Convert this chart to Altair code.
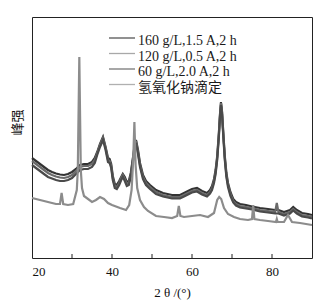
import altair as alt
import pandas as pd

# ---- data (intensity in arbitrary units) ----
two_theta_dark = [20, 21, 22, 23, 24, 25, 26, 27, 28, 29, 30, 31, 32, 33, 34, 35,
                  35.7, 36.3, 37, 37.75, 38.4, 39, 39.4, 39.8,
                  40.2, 40.7, 41.2, 41.8, 42.3, 42.7, 43.2, 43.7, 44.2, 44.7,
                  45.2, 45.6, 46, 46.5, 47, 47.75, 48.5, 49.5,
                  51, 52.75, 55, 57, 58, 59, 60, 61.25, 62.5, 63.75, 64.5,
                  65, 65.5, 65.9, 66.3, 66.7, 67, 67.25, 67.5, 67.8, 68.2, 68.6, 69, 69.6, 70.3,
                  71, 72, 73.5, 75, 77, 79, 80.8, 81.2, 81.6, 83, 84.5, 85.3, 86.2, 87.5, 89, 90]

i_160 = [100, 97, 94, 91, 88, 86, 84.5, 83.5, 83, 84, 86, 89, 93, 94, 94, 96,
         100, 106, 114, 121, 111, 100, 99, 94,
         82, 74, 73, 77, 81, 84, 81, 76, 77, 85,
         99, 111, 118, 108, 95, 83, 77, 73,
         68, 65, 63, 63, 65, 67, 69, 70, 67, 65, 68,
         72, 79, 88, 102, 124, 144, 156, 147, 127, 102, 85, 75, 66, 59,
         56, 54, 53, 51.5, 50, 49, 48, 48, 48, 46, 48, 51, 48, 45, 44, 43]

i_120 = [97, 94, 91, 88, 85, 83, 81.5, 80.5, 80, 81, 83, 87, 91, 92, 92, 94,
         98, 105, 113, 120, 110, 98, 97, 92,
         80, 72, 71, 75, 80, 83, 79, 74, 75, 83,
         98, 110, 117, 106, 93, 81, 75, 71,
         66, 63, 61, 61, 63, 65, 67, 68, 65, 63, 66,
         70, 77, 86, 100, 122, 143, 155, 146, 125, 100, 83, 73, 64, 57,
         54, 52, 51, 50, 48, 47, 46, 55, 46, 44, 46, 49, 46, 43, 42, 41]

i_60 = [93, 90, 87, 84, 81, 79.5, 78, 77, 77, 78, 80, 84, 88, 89, 89, 91,
        95, 103, 111, 118, 108, 96, 95, 90,
        78, 70, 69, 73, 78, 81, 77, 72, 73, 81,
        96, 108, 115, 104, 91, 79, 73, 69,
        64, 61.5, 59.5, 59.5, 61.5, 63.5, 65.5, 66.5, 63.5, 61.5, 64.5,
        68, 75, 84, 98, 120, 141, 153, 144, 123, 98, 81, 71, 62, 55.5,
        52.5, 50.5, 49.5, 48.5, 46.5, 45.5, 44.5, 44.5, 44.5, 42.5, 44.5, 47.5, 44.5, 41.5, 40.5, 39.5]

two_theta_naoh = [20, 22, 24, 26, 27, 27.4, 27.8, 29, 30.3,
                  31.2, 31.45, 31.65, 31.83, 32.0, 32.2, 32.5, 33,
                  35, 36, 37, 38, 39, 40, 42, 43.5,
                  44.3, 44.9, 45.3, 45.6, 45.9, 46.3, 47, 48, 49,
                  51, 53, 55, 56.3, 56.7, 57.1, 58, 60, 62, 64,
                  65.5, 66.3, 66.8, 67.3, 68, 69, 70.5, 72, 74,
                  75, 75.3, 75.6, 77, 79, 81, 81.2, 81.4, 83, 84, 85, 87, 90]

i_naoh = [60, 58, 56, 54, 54, 65, 54, 53, 54,
          68, 88, 148, 201, 148, 88, 70, 62,
          56, 58, 61, 59, 55, 53, 50, 48,
          53, 68, 98, 136, 93, 70, 58, 51, 47,
          42, 41, 40, 42, 52, 42, 41, 42, 43, 41,
          45, 58, 61, 59, 50, 44, 41, 39, 38,
          39, 53, 39, 38, 37, 36, 39, 36, 36, 43, 36, 35, 33]

series_names = ["160 g/L,1.5 A,2 h", "120 g/L,0.5 A,2 h", "60 g/L,2.0 A,2 h", "氢氧化钠滴定"]
series_colors = ["#333333", "#6a6a6a", "#4a4a4a", "#8c8c8c"]
legend_colors = ["#555555", "#a8a8a8", "#777777", "#b0b0b0"]
series_widths = [2.2, 2.2, 2.2, 1.0]
x_tick_values = [30, 40, 50, 60, 70, 80]
x_label_values = [20, 40, 60, 80]

# ---- build tables ----
rows = []
for name, vals in zip(series_names[:3], [i_160, i_120, i_60]):
    for t, v in zip(two_theta_dark, vals):
        rows.append({"two_theta": t, "intensity": v, "series": name})
for t, v in zip(two_theta_naoh, i_naoh):
    rows.append({"two_theta": t, "intensity": v, "series": series_names[3]})
df = pd.DataFrame(rows)
ticks_df = pd.DataFrame({"tick": x_tick_values})
legend_df = pd.DataFrame({"series": series_names})

serif = "Liberation Serif, Noto Sans CJK SC"
color_scale = alt.Scale(domain=series_names, range=series_colors)
y_scale = alt.Scale(domain=[0, 241], nice=False, zero=True)

curves = alt.Chart(df).mark_line(interpolate="linear").encode(
    x=alt.X("two_theta:Q", scale=alt.Scale(domain=[20, 90], nice=False, zero=False),
            axis=alt.Axis(values=x_label_values, title="2 θ /(°)", tickSize=0, domain=False,
                          grid=False, labelFont="Liberation Serif", labelFontSize=13,
                          labelColor="#111", labelPadding=7, labelFlush=True,
                          labelOverlap=False, titleFont=serif, titleFontSize=13,
                          titleFontWeight="normal", titleColor="#111", titlePadding=8)),
    y=alt.Y("intensity:Q", scale=y_scale,
            axis=alt.Axis(title="峰强", labels=False, ticks=False, domain=False, grid=False,
                          titleFont="Noto Sans CJK SC", titleFontSize=13, titleFontWeight="normal",
                          titleColor="#111", titleAngle=270, titleX=-15, titleY=105,
                          titleAlign="center", titleBaseline="middle")),
    color=alt.Color("series:N", scale=color_scale, legend=None),
    strokeWidth=alt.StrokeWidth("series:N", scale=alt.Scale(domain=series_names, range=series_widths),
                                legend=None),
)

tick_marks = alt.Chart(ticks_df).mark_rule(color="#222", strokeWidth=1).encode(
    x=alt.X("tick:Q", scale=alt.Scale(domain=[20, 90], nice=False, zero=False), axis=None),
    y=alt.value(241),
    y2=alt.value(237),
)

legend_y = alt.Y("series:N", sort=series_names,
                 scale=alt.Scale(type="point", range=[21, 67.5], padding=0), axis=None)

legend_lines = alt.Chart(legend_df).mark_rule(strokeWidth=1.3).encode(
    x=alt.value(77),
    x2=alt.value(103),
    y=legend_y,
    stroke=alt.Stroke("series:N", scale=alt.Scale(domain=series_names, range=legend_colors),
                      legend=None),
)

legend_text = alt.Chart(legend_df).mark_text(
    align="left", baseline="middle", dy=3, font=serif, fontSize=14, color="#1a1a1a"
).encode(
    x=alt.value(106),
    y=legend_y,
    text="series:N",
)

chart = alt.layer(curves, tick_marks, legend_lines, legend_text).resolve_scale(
    x="independent", y="independent"
).resolve_axis(
    x="independent", y="independent"
).properties(
    width=280, height=241,
    autosize=alt.AutoSizeParams(type="none"),
    padding={"left": 32, "top": 17, "right": 18, "bottom": 45},
    background="white",
).configure_view(stroke="#222", strokeWidth=1)

chart.save("out.html", embed_options={"renderer": "svg", "actions": False})
